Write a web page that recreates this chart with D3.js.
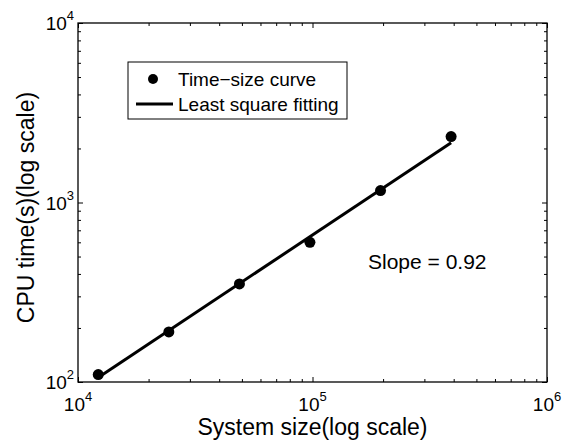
<!DOCTYPE html>
<html><head><meta charset="utf-8">
<script src="https://cdn.jsdelivr.net/npm/d3@7"></script>
<style>
body{margin:0;background:#fff}
svg{display:block}
text{font-family:"Liberation Sans",Arial,Helvetica,sans-serif;fill:#000}
</style>
</head><body><svg id="c" width="564" height="447"></svg>
<script>
const systemSize = [12200, 24400, 48800, 97500, 195000, 390000];
const cpuTime = [110, 190, 352, 600, 1165, 2330];
const fitSize = [12200, 390000];
const fitTime = [106, 2150];
const xTickValues = [1e4, 1e5, 1e6];
const yTickValues = [1e2, 1e3, 1e4];
const xTickExp = ["4", "5", "6"];
const yTickExp = ["2", "3", "4"];
const legendLabels = ["Time\u2212size curve", "Least square fitting"];
const slopeLabel = "Slope = 0.92";
const xTitle = "System size(log scale)";
const yTitle = "CPU time(s)(log scale)";

const svg = d3.select("#c");
const L = 78, R = 547, T = 23, B = 382;
const x = d3.scaleLog().domain([1e4, 1e6]).range([L, R]);
const y = d3.scaleLog().domain([1e2, 1e4]).range([B, T]);

const minorX = x.ticks().filter(v => !xTickValues.includes(v));
const minorY = y.ticks().filter(v => !yTickValues.includes(v));

function axisGroup(axisFn, scale, vals, size, transform) {
  const g = svg.append("g").attr("transform", transform)
    .call(axisFn(scale).tickValues(vals).tickSize(size).tickFormat(""));
  g.select(".domain").remove();
  g.selectAll("line").attr("stroke", "#000").attr("stroke-width", 1);
  return g;
}
// minor + major ticks on all four sides, pointing inward
axisGroup(d3.axisBottom, x, minorX, -3, `translate(0,${B})`);
axisGroup(d3.axisBottom, x, xTickValues, -5, `translate(0,${B})`);
axisGroup(d3.axisTop, x, minorX, -3, `translate(0,${T})`);
axisGroup(d3.axisTop, x, xTickValues, -5, `translate(0,${T})`);
axisGroup(d3.axisLeft, y, minorY, -3, `translate(${L},0)`);
axisGroup(d3.axisLeft, y, yTickValues, -5, `translate(${L},0)`);
axisGroup(d3.axisRight, y, minorY, -3, `translate(${R},0)`);
axisGroup(d3.axisRight, y, yTickValues, -5, `translate(${R},0)`);

svg.append("rect").attr("x", L).attr("y", T).attr("width", R - L).attr("height", B - T)
  .attr("fill", "none").attr("stroke", "#000").attr("stroke-width", 1.3);

// tick labels
xTickValues.forEach((v, i) => {
  const t = svg.append("text").attr("x", x(v)).attr("y", B + 29)
    .attr("text-anchor", "middle").style("font-size", "19px");
  t.append("tspan").text("10");
  t.append("tspan").attr("dy", -10).style("font-size", "13px").text(xTickExp[i]);
});
yTickValues.forEach((v, i) => {
  const t = svg.append("text").attr("x", L - 4).attr("y", y(v) + 7)
    .attr("text-anchor", "end").style("font-size", "19px");
  t.append("tspan").text("10");
  t.append("tspan").attr("dy", -10).style("font-size", "13px").text(yTickExp[i]);
});

// fit line
const line = d3.line().x(d => x(d[0])).y(d => y(d[1]));
svg.append("path").datum(d3.zip(fitSize, fitTime)).attr("d", line)
  .attr("fill", "none").attr("stroke", "#000").attr("stroke-width", 3);

// data points
svg.selectAll("circle.pt").data(d3.zip(systemSize, cpuTime)).join("circle")
  .attr("class", "pt").attr("cx", d => x(d[0])).attr("cy", d => y(d[1]))
  .attr("r", 5.5).attr("fill", "#000");

// legend
const lg = svg.append("g");
lg.append("rect").attr("x", 128).attr("y", 62).attr("width", 219).attr("height", 57)
  .attr("fill", "#fff").attr("stroke", "#000").attr("stroke-width", 1);
lg.append("circle").attr("cx", 153).attr("cy", 79).attr("r", 5).attr("fill", "#000");
lg.append("line").attr("x1", 136).attr("x2", 173).attr("y1", 104).attr("y2", 104)
  .attr("stroke", "#000").attr("stroke-width", 3);
lg.append("text").attr("x", 178).attr("y", 86).style("font-size", "19px").text(legendLabels[0]);
lg.append("text").attr("x", 178).attr("y", 111).style("font-size", "19px").text(legendLabels[1]);

// slope annotation
svg.append("text").attr("x", 368).attr("y", 269).style("font-size", "21px").text(slopeLabel);

// axis titles
svg.append("text").attr("x", (L + R) / 2).attr("y", 435).attr("text-anchor", "middle")
  .style("font-size", "23px").text(xTitle);
svg.append("text").attr("transform", `translate(34,${(T + B) / 2 + 5}) rotate(-90)`)
  .attr("text-anchor", "middle").style("font-size", "23px").text(yTitle);
</script>
</body></html>
